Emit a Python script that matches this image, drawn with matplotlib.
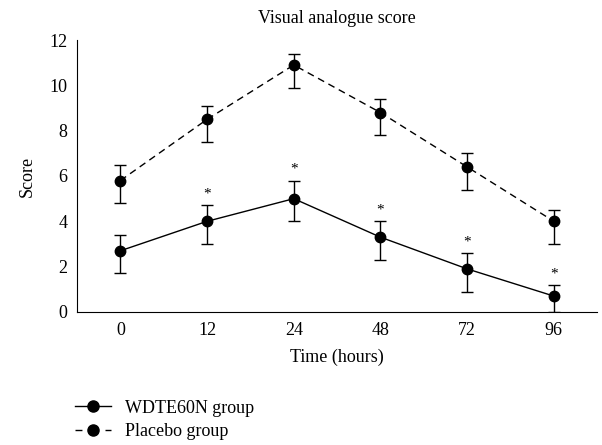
import matplotlib.pyplot as plt
from matplotlib.lines import Line2D

plt.rcParams['font.family'] = ['Liberation Serif', 'DejaVu Serif']

# time points (categorical)
times = ['0', '12', '24', '48', '72', '96']

# WDTE60N group
wdte = [2.7, 4.0, 5.0, 3.3, 1.9, 0.7]
wdte_lo = [1.0, 1.0, 1.0, 1.0, 1.0, 0.7]
wdte_hi = [0.7, 0.7, 0.8, 0.7, 0.7, 0.5]

# Placebo group
placebo = [5.8, 8.5, 10.9, 8.8, 6.4, 4.0]
plac_lo = [1.0, 1.0, 1.0, 1.0, 1.0, 1.0]
plac_hi = [0.7, 0.6, 0.5, 0.6, 0.6, 0.5]

# significance marks on WDTE60N group
star = ['', '*', '*', '*', '*', '*']

fig = plt.figure(figsize=(6.02, 4.45), dpi=100)
ax = fig.add_axes([0.128, 0.299, 0.864, 0.611])

x = range(len(times))
dash = (0, (5, 3.5))
ax.errorbar(x, wdte, yerr=[wdte_lo, wdte_hi], color='black', linestyle='-',
            marker='o', markersize=7.5, linewidth=1, capsize=4, elinewidth=1)
ax.errorbar(x, placebo, yerr=[plac_lo, plac_hi], color='black', linestyle=dash,
            marker='o', markersize=7.5, linewidth=1, capsize=4, elinewidth=1)

for i, s in enumerate(star):
    if s:
        ax.text(i, wdte[i] + wdte_hi[i] + 0.2, s, ha='center', va='bottom', fontsize=11)

ax.set_xlim(-0.5, 5.5)
ax.set_ylim(0, 12)
ax.set_xticks(list(x))
ax.set_xticklabels(times)
ax.set_yticks(range(0, 13, 2))
ax.tick_params(length=0, labelsize=13, pad=7)
ax.spines['top'].set_visible(False)
ax.spines['right'].set_visible(False)
ax.set_xlabel('Time (hours)', fontsize=13, labelpad=7)
ax.set_ylabel('Score', fontsize=13, labelpad=10)
ax.set_title('Visual analogue score', fontsize=13, pad=12)

handles = [
    Line2D([], [], color='black', linestyle='-', linewidth=1, marker='o', markersize=8),
    Line2D([], [], color='black', linestyle=(0, (5, 16.6)), linewidth=1, marker='o', markersize=8),
]
labels = ['WDTE60N group', 'Placebo group']
fig.legend(handles, labels, loc='upper left', bbox_to_anchor=(0.113, 0.118),
           frameon=False, fontsize=13, handlelength=2.0, handletextpad=0.75,
           labelspacing=0.35, borderaxespad=0)

fig.savefig('out.png', dpi=100)
